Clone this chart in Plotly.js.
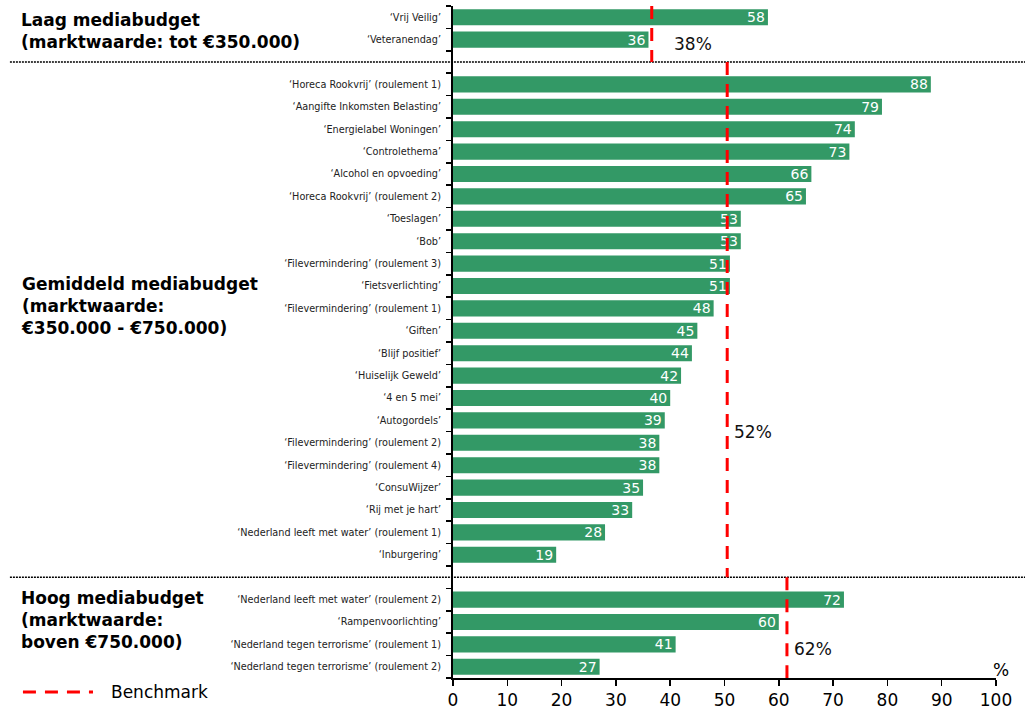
<!DOCTYPE html>
<html>
<head>
<meta charset="utf-8">
<script src="https://cdn.plot.ly/plotly-3.0.1.min.js"></script>
<style>html,body{margin:0;padding:0;background:#fff;}#chart{width:1025px;height:713px;}</style>
</head>
<body>
<div id="chart"></div>
<script>
// ---- Data ----
const lowCats = ["‘Vrij Veilig’", "‘Veteranendag’"];
const lowVals = [58, 36];
const midCats = [
  "‘Horeca Rookvrij’ (roulement 1)", "‘Aangifte Inkomsten Belasting’", "‘Energielabel Woningen’",
  "‘Controlethema’", "‘Alcohol en opvoeding’", "‘Horeca Rookvrij’ (roulement 2)", "‘Toeslagen’",
  "‘Bob’", "‘Filevermindering’ (roulement 3)", "‘Fietsverlichting’", "‘Filevermindering’ (roulement 1)",
  "‘Giften’", "‘Blijf positief’", "‘Huiselijk Geweld’", "‘4 en 5 mei’", "‘Autogordels’",
  "‘Filevermindering’ (roulement 2)", "‘Filevermindering’ (roulement 4)", "‘ConsuWijzer’",
  "‘Rij met je hart’", "‘Nederland leeft met water’ (roulement 1)", "‘Inburgering’"
];
const midVals = [88, 79, 74, 73, 66, 65, 53, 53, 51, 51, 48, 45, 44, 42, 40, 39, 38, 38, 35, 33, 28, 19];
const highCats = [
  "‘Nederland leeft met water’ (roulement 2)", "‘Rampenvoorlichting’",
  "‘Nederland tegen terrorisme’ (roulement 1)", "‘Nederland tegen terrorisme’ (roulement 2)"
];
const highVals = [72, 60, 41, 27];
const groupTitles = [
  "Laag mediabudget<br>(marktwaarde: tot €350.000)",
  "Gemiddeld mediabudget<br>(marktwaarde:<br>€350.000 - €750.000)",
  "Hoog mediabudget<br>(marktwaarde:<br>boven €750.000)"
];
const benchmarkPos = [36.6, 50.5, 61.5];     // where the dashed lines are drawn
const benchmarkLabels = ["38%", "52%", "62%"];
const xTicks = [0, 10, 20, 30, 40, 50, 60, 70, 80, 90, 100];
const legendText = "Benchmark";

// ---- Build slot layout (one empty slot between groups) ----
const groups = [[lowCats, lowVals], [midCats, midVals], [highCats, highVals]];
const ys = [], xs = [], labels = [], texts = [];
const groupStart = [], groupEnd = [];
let slot = 0;
groups.forEach((g, gi) => {
  groupStart.push(slot);
  g[0].forEach((c, i) => {
    ys.push(slot); xs.push(g[1][i]); labels.push(c); texts.push(String(g[1][i]));
    slot++;
  });
  groupEnd.push(slot - 1);
  if (gi < groups.length - 1) slot++; // separator slot
});
const nSlots = slot;
const boundaries = [];
for (let b = -0.5; b <= nSlots - 0.5 + 1e-9; b += 1) boundaries.push(b);

const green = "#339966";
const red = "#ff0000";
const font = "DejaVu Sans, Verdana, sans-serif";

const trace = {
  type: "bar", orientation: "h",
  x: xs, y: ys, text: texts,
  textposition: "inside", insidetextanchor: "end", constraintext: "none",
  textfont: {color: "#ffffff", size: 14, family: font},
  marker: {color: green},
  width: 0.72, hoverinfo: "skip", cliponaxis: false
};

const shapes = [];
const annotations = [];
// separators between groups
const sepSlots = [groupEnd[0] + 1, groupEnd[1] + 1];
sepSlots.forEach(s => {
  shapes.push({type: "line", xref: "paper", yref: "y", x0: -0.816, x1: 1.06, y0: s, y1: s,
    line: {color: "#000", width: 1.6, dash: "2px,1px"}});
});
// benchmark lines
const bmY0 = [-0.5, sepSlots[0], sepSlots[1]];
const bmY1 = [sepSlots[0], sepSlots[1], nSlots - 0.5];
const bmLabelSlot = [1.2, 18.5, 28.2];
benchmarkPos.forEach((p, i) => {
  shapes.push({type: "line", xref: "x", yref: "y", x0: p, x1: p, y0: bmY0[i], y1: bmY1[i],
    line: {color: red, width: 3, dash: "13px,9px"}});
  annotations.push({xref: "x", yref: "y", x: p, y: bmLabelSlot[i], text: benchmarkLabels[i],
    showarrow: false, xanchor: "left", xshift: i === 0 ? 20 : 5,
    font: {family: font, size: 17, color: "#111"}});
});
// group titles
const titleSlot = [0.6, 12.9, 26.9];
groupTitles.forEach((t, i) => {
  annotations.push({xref: "paper", yref: "y", x: -0.794, xshift: -3, y: titleSlot[i], text: "<b>" + t + "</b>",
    showarrow: false, xanchor: "left", yanchor: "middle", align: "left",
    font: {family: font, size: 17, color: "#000"}});
});
// % unit
annotations.push({xref: "paper", yref: "paper", x: 1.0, y: 0, yanchor: "bottom", xanchor: "left",
  xshift: -5, yshift: -4, text: "%", showarrow: false, font: {family: font, size: 17, color: "#000"}});
// legend
shapes.push({type: "line", xref: "paper", yref: "paper", x0: -0.792, x1: -0.663, y0: -0.021, y1: -0.021,
  line: {color: red, width: 3, dash: "13px,9px"}});
annotations.push({xref: "paper", yref: "paper", x: -0.628, xshift: -3, y: -0.021, text: legendText, showarrow: false,
  xanchor: "left", yanchor: "middle", font: {family: font, size: 17, color: "#000"}});

const layout = {
  width: 1025, height: 713,
  margin: {l: 453, r: 29, t: 6, b: 35},
  paper_bgcolor: "#fff", plot_bgcolor: "#fff",
  showlegend: false,
  xaxis: {range: [0, 100], tickvals: xTicks, ticktext: xTicks.map(String),
    showgrid: false, zeroline: false, showline: true, linecolor: "#000", linewidth: 2,
    ticks: "outside", ticklen: 6, tickwidth: 1.5, tickcolor: "#000",
    tickfont: {family: font, size: 17, color: "#000"}, fixedrange: true},
  yaxis: {range: [nSlots - 0.5, -0.5], tickvals: ys, ticktext: labels,
    showgrid: false, zeroline: false, showline: true, linecolor: "#000", linewidth: 2,
    ticks: "", ticklabelstandoff: 8,
    tickfont: {family: font, size: 9.7, color: "#222"},
    minor: {tickvals: boundaries, ticks: "outside", ticklen: 5, tickwidth: 1.5, tickcolor: "#000", showgrid: false},
    fixedrange: true},
  shapes: shapes,
  annotations: annotations,
  font: {family: font}
};

Plotly.newPlot("chart", [trace], layout, {displayModeBar: false, staticPlot: true});
</script>
</body>
</html>
